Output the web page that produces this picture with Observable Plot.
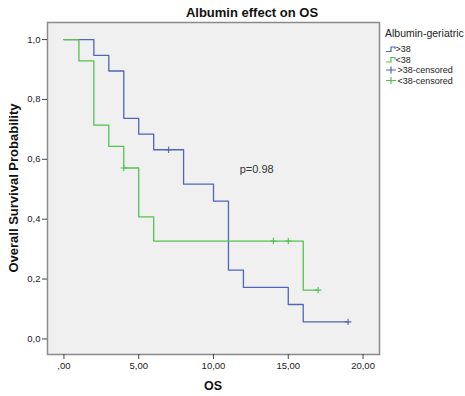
<!DOCTYPE html>
<html><head><meta charset="utf-8">
<script src="https://cdn.jsdelivr.net/npm/d3@7"></script>
<script src="https://cdn.jsdelivr.net/npm/@observablehq/plot@0.6"></script>
<style>body{margin:0;background:#fff;} svg{display:block}</style>
</head><body><div id="chart"></div>
<script>
// Kaplan-Meier steps
const groups = [">38", "<38"];
const colors = ["#5066b8", "#52c252"];
const highTime = [0, 2, 3, 4, 5, 6, 8, 10, 11, 12, 15, 16, 19];
const highSurv = [1, 0.947, 0.895, 0.737, 0.684, 0.632, 0.517, 0.460, 0.230, 0.172, 0.115, 0.057, 0.057];
const lowTime = [0, 1, 2, 3, 4, 5, 6, 16, 17];
const lowSurv = [1, 0.929, 0.714, 0.643, 0.571, 0.408, 0.327, 0.163, 0.163];
const highCensTime = [7, 19];
const highCensSurv = [0.632, 0.057];
const lowCensTime = [4, 14, 15, 17];
const lowCensSurv = [0.571, 0.327, 0.327, 0.163];
const xTicks = [0, 5, 10, 15, 20];
const yTicks = [0, 0.2, 0.4, 0.6, 0.8, 1.0];
const legendItems = [">38", "<38", ">38-censored", "<38-censored"];
const pText = "p=0.98";
const pPos = {x: 11.75, y: 0.566};

const steps = [
  ...highTime.map((t, i) => ({group: groups[0], t, s: highSurv[i]})),
  ...lowTime.map((t, i) => ({group: groups[1], t, s: lowSurv[i]}))
];
const cens = [
  ...highCensTime.map((t, i) => ({group: groups[0], t, s: highCensSurv[i]})),
  ...lowCensTime.map((t, i) => ({group: groups[1], t, s: lowCensSurv[i]}))
];

const W = 465, H = 396;
const ML = 47, MR = 86, MT = 22, MB = 42;
const fmtX = d => d === 0 ? ",00" : d.toFixed(2).replace(".", ",");
const fmtY = d => d.toFixed(1).replace(".", ",");

const chart = Plot.plot({
  width: W, height: H,
  marginLeft: ML, marginRight: MR, marginTop: MT, marginBottom: MB,
  style: {fontFamily: "'Liberation Sans', Arial, sans-serif", background: "#fff"},
  x: {domain: [-1.1, 21.1], label: null},
  y: {domain: [-0.052, 1.057], label: null},
  color: {domain: groups, range: colors},
  marks: [
    Plot.frame({fill: "#f0f0f0", stroke: null}),
    Plot.line(steps, {x: "t", y: "s", z: "group", stroke: "group", curve: "step-after", strokeWidth: 1.3}),
    Plot.dot(cens, {x: "t", y: "s", stroke: "group", symbol: "plus", r: 2.2, strokeWidth: 1.1}),
    Plot.text([pPos], {x: "x", y: "y", text: () => pText, textAnchor: "start", fontSize: 11, fill: "#333"}),
    Plot.frame({stroke: "#8a8a8a", strokeWidth: 1.5}),
    Plot.axisX({ticks: xTicks, tickFormat: fmtX, tickSize: 5, tickPadding: 3, fontSize: 9.5, stroke: "#444", color: "#222"}),
    Plot.axisY({ticks: yTicks, tickFormat: fmtY, tickSize: 5, tickPadding: 2, fontSize: 9.5, stroke: "#444", color: "#222"})
  ]
});
document.getElementById("chart").appendChild(chart);

const svg = d3.select(chart);
const ff = "'Liberation Sans', Arial, sans-serif";
svg.append("text").attr("x", 252).attr("y", 17).attr("text-anchor", "middle")
  .attr("font-family", ff).attr("font-size", 13).attr("font-weight", "bold").attr("fill", "#111")
  .text("Albumin effect on OS");
svg.append("text").attr("transform", "translate(18,188) rotate(-90)").attr("text-anchor", "middle")
  .attr("font-family", ff).attr("font-size", 13).attr("font-weight", "bold").attr("fill", "#111")
  .text("Overall Survival Probability");
svg.append("text").attr("x", 213).attr("y", 390).attr("text-anchor", "middle")
  .attr("font-family", ff).attr("font-size", 12.5).attr("font-weight", "bold").attr("fill", "#111")
  .text("OS");

// legend
const lg = svg.append("g").attr("font-family", ff).attr("text-anchor", "start");
lg.append("text").attr("x", 385).attr("y", 37).attr("font-size", 10.5).attr("fill", "#222").text("Albumin-geriatric");
const rowY = [49, 59.5, 70, 80.5];
legendItems.forEach((lab, i) => {
  const c = colors[i % 2];
  const y = rowY[i];
  if (i < 2) {
    lg.append("path").attr("d", `M386,${y + 2.5}H391V${y - 2}H395V${y}`)
      .attr("fill", "none").attr("stroke", c).attr("stroke-width", 1.2);
    lg.append("text").attr("x", 395.5).attr("y", y + 3).attr("font-size", 9).attr("fill", "#222").text(lab);
  } else {
    lg.append("path").attr("d", `M386,${y}H396M391,${y - 3.5}V${y + 3.5}`)
      .attr("fill", "none").attr("stroke", c).attr("stroke-width", 1.2);
    lg.append("text").attr("x", 397.5).attr("y", y + 3).attr("font-size", 9).attr("fill", "#222").text(lab);
  }
});
</script></body></html>
